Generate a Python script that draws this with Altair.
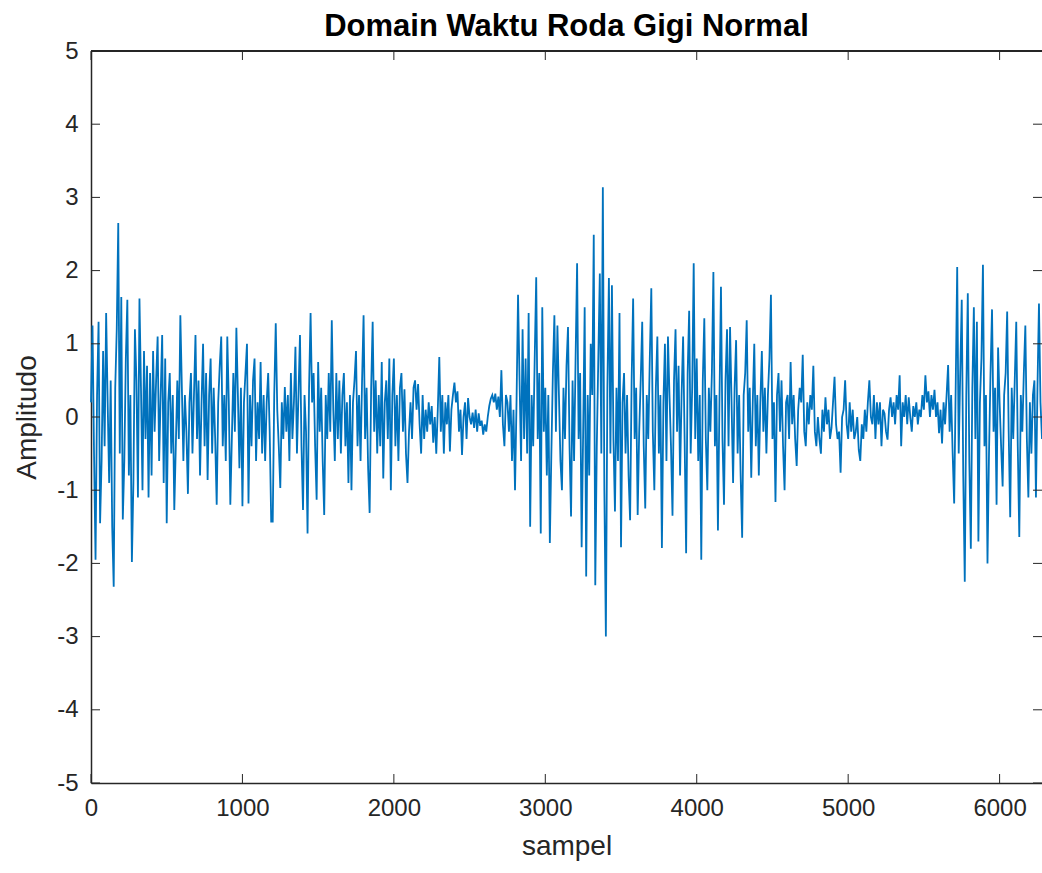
import altair as alt
import pandas as pd

# Vibration record of a healthy gear, one value every 10 samples
STEP = 10
amplitudo = [
    # 0 - 190
    0.2, 1.25, -0.5, -1.95, 0.3, 1.3, -1.45, -0.6, 0.9, -0.4, 1.42, 0.2, -0.9, 0.5, -1.5, -2.32, 0.4, 1.2, 2.65, -0.5,
    # 200 - 390
    1.64, -1.4, -0.6, 0.8, 1.6, -0.8, 0.3, -1.98, -0.9, 1.2, 0.5, -1.1, 1.62, 0.4, -1.0, 0.9, -0.3, 0.7, -1.1, 0.6,
    # 400 - 590
    -0.8, 0.9, -0.2, 0.5, 1.1, -0.6, 0.3, 1.12, -0.9, 0.8, -1.45, 0.2, 0.6, -0.5, 0.3, -1.27, -0.4, 0.5, -0.3, 1.39,
    # 600 - 790
    0.4, -0.6, 0.3, -0.2, -1.05, 0.2, 0.6, -0.5, 0.3, 1.12, -0.3, 0.5, -0.8, 0.2, 1.0, -0.4, 0.6, -0.86, 0.3, 0.8,
    # 800 - 990
    -0.5, 0.4, -0.3, -1.2, 0.2, 0.7, 1.1, -0.4, 0.3, -0.6, 1.1, 0.2, -1.2, -0.3, 0.6, -0.2, 1.22, 0.3, -0.7, 0.4,
    # 1000 - 1190
    -1.22, 0.2, 0.6, 1.0, -1.18, 0.3, -0.4, 0.5, 0.8, -0.6, 0.2, -0.3, 0.75, -0.5, 0.3, -0.6, 0.2, 0.6, -0.2, -1.43,
    # 1200 - 1390
    -1.43, 0.3, 1.28, 0.1, -0.4, -0.97, 0.2, -0.3, 0.41, -0.2, 0.3, -0.6, 0.6, -0.3, 0.2, 0.96, -0.5, 0.3, 1.12, -0.4,
    # 1400 - 1590
    -1.27, 0.3, -0.2, -1.59, 0.4, 1.42, 0.2, 0.6, -0.4, -1.13, 0.75, -0.2, 0.4, -0.6, -1.34, 0.3, -0.3, 0.6, -0.2, 1.32,
    # 1600 - 1790
    0.1, -0.6, 0.6, -0.3, 0.5, -0.5, 0.3, 0.6, -0.4, 0.2, -0.9, 0.3, -1.0, 0.2, 0.5, 0.9, -0.4, 0.3, -0.6, 0.5,
    # 1800 - 1990
    1.39, -0.3, 0.4, -0.7, -1.31, 0.4, 1.3, -0.2, 0.5, -0.5, 0.3, -0.4, 0.75, -0.84, 0.2, 0.5, -0.3, 0.8, -1.0, 0.3,
    # 2000 - 2190
    0.8, -0.4, 0.3, -0.6, 0.4, 0.6, -0.2, 0.38, -0.5, -0.9, -0.2, 0.2, -0.3, 0.4, 0.5, 0.1, 0.45, -0.1, -0.5, 0.3,
    # 2200 - 2390
    -0.3, 0.1, -0.2, 0.2, -0.1, 0.15, -0.35, 0.0, -0.5, 0.1, 0.82, -0.2, 0.3, -0.5, 0.2, -0.1, 0.3, -0.47, 0.1, 0.3,
    # 2400 - 2590
    0.47, 0.2, 0.35, -0.2, 0.1, -0.52, 0.0, 0.2, -0.3, 0.26, 0.0, -0.1, 0.06, -0.15, 0.1, -0.2, 0.05, -0.12, -0.05, -0.24,
    # 2600 - 2790
    -0.1, -0.2, 0.0, 0.15, 0.25, 0.3, 0.2, 0.32, 0.1, 0.28, 0.0, 0.64, -0.1, -0.4, 0.3, 0.2, -0.2, 0.3, -0.6, 0.1,
    # 2800 - 2990
    -1.0, 0.2, 1.67, 0.5, -0.6, 1.2, -0.3, 0.8, -0.5, 1.42, -1.5, 0.3, -0.4, 0.8, 1.91, -0.3, 0.6, -1.59, 1.5, -0.2,
    # 3000 - 3190
    0.4, -0.8, 0.3, -1.72, -0.5, 0.6, 1.39, -0.2, 1.25, 0.3, -0.6, -1.0, 0.4, -0.3, 0.7, 1.23, -0.4, -1.36, 0.5, -0.6,
    # 3200 - 3390
    0.8, 2.1, -0.3, 0.6, -1.78, -0.2, 1.5, -2.18, 0.3, -0.8, 1.0, 0.3, 2.49, -2.3, -0.4, 0.8, 1.96, -0.5, 3.14, -1.0,
    # 3400 - 3590
    -3.0, 0.4, 1.9, -0.5, 1.8, -0.3, -1.29, 0.4, -0.6, 1.42, -1.78, 0.2, 0.6, -0.5, 0.3, -0.8, -1.41, 0.5, 1.62, -0.3,
    # 3600 - 3790
    0.4, -1.34, -0.2, 0.5, 1.3, -0.4, -1.25, 0.3, -0.3, 0.8, 1.76, -0.2, -1.0, 0.4, 1.1, -0.5, 0.3, -1.79, 0.2, 1.0,
    # 3800 - 3990
    -0.6, 1.1, 0.3, -0.4, -1.35, 0.5, 1.2, -0.2, 0.7, -0.8, 0.3, 1.1, -0.3, -1.86, 0.6, 1.45, -0.5, 0.4, 2.1, -0.3,
    # 4000 - 4190
    0.8, -0.6, 0.3, -1.95, 0.5, 1.35, -0.3, -1.0, 0.4, -0.2, 0.6, 1.98, -0.4, 0.3, -1.55, 0.2, 1.78, -0.3, -1.2, 0.5,
    # 4200 - 4390
    1.2, -0.4, 1.23, 0.2, -0.9, 0.4, 1.05, -0.5, 0.3, -0.8, -1.65, 0.3, 0.6, 1.32, -0.2, 0.4, -0.83, 0.2, 1.0, -0.4,
    # 4400 - 4590
    0.3, -0.8, 0.2, 0.9, -0.2, 0.4, -0.5, 0.3, 0.8, 1.67, -0.3, 0.2, -1.16, 0.3, 0.6, -0.2, 0.5, -0.4, -1.0, 0.2,
    # 4600 - 4790
    0.3, -0.3, 0.75, -0.1, 0.3, -0.3, -0.67, 0.1, 0.4, 0.2, 0.85, -0.2, -0.4, 0.2, -0.1, 0.3, 0.1, 0.7, -0.2, -0.4,
    # 4800 - 4990
    0.0, -0.3, -0.5, 0.1, -0.2, 0.27, -0.1, 0.1, -0.3, -0.15, 0.2, 0.55, -0.1, -0.3, -0.2, -0.76, 0.0, 0.1, 0.5, -0.1,
    # 5000 - 5190
    -0.3, 0.2, -0.2, 0.1, -0.3, -0.2, 0.0, -0.45, -0.6, -0.1, -0.3, 0.1, -0.2, 0.2, 0.5, 0.0, -0.1, 0.3, -0.3, 0.2,
    # 5200 - 5390
    -0.1, 0.2, -0.4, 0.1, 0.05, -0.2, -0.31, 0.1, 0.27, 0.0, 0.2, -0.1, 0.3, 0.1, 0.57, -0.4, 0.2, 0.0, 0.3, -0.1,
    # 5400 - 5590
    0.27, 0.0, -0.2, 0.15, 0.0, 0.2, -0.1, 0.1, 0.0, 0.3, 0.1, 0.57, 0.2, 0.35, 0.0, 0.3, 0.1, 0.37, 0.0, 0.2,
    # 5600 - 5790
    -0.22, 0.1, -0.36, 0.2, -0.1, 0.3, 0.71, -0.2, 0.3, -0.5, -1.18, 0.4, 2.05, -0.5, 0.6, 1.6, -0.8, -2.25, 0.3, 1.69,
    # 5800 - 5990
    -0.6, -1.8, 0.4, 1.5, -0.3, 1.3, -1.7, 0.2, 0.8, 2.08, -0.4, 0.3, -2.0, -0.5, 0.6, 1.47, -0.2, 0.4, -1.2, 0.95,
    # 6000 - 6190
    0.2, -0.4, -0.95, 0.3, 0.6, 1.44, -0.2, -1.37, 0.4, -0.3, 0.5, 1.3, -0.4, -1.64, 0.3, -0.2, 0.6, 1.25, -0.3, -1.1,
    # 6200 - 6280
    0.2, -0.5, 0.3, 0.5, -1.1, 0.4, 1.55, 0.2, -0.3,
]
sampel = [i * STEP for i in range(len(amplitudo))]

x_ticks = [0, 1000, 2000, 3000, 4000, 5000, 6000]
y_ticks = [-5, -4, -3, -2, -1, 0, 1, 2, 3, 4, 5]
X_MAX = 6280

W, H = 951, 732
AXIS_COLOR = "#262626"
FONT = "Liberation Sans"

signal = pd.DataFrame({"sampel": sampel, "amplitudo": amplitudo})
xt = pd.DataFrame({"sampel": x_ticks})
yt = pd.DataFrame({"amplitudo": y_ticks})

x_scale = alt.Scale(domain=[0, X_MAX], nice=False, zero=False)
y_scale = alt.Scale(domain=[-5, 5], nice=False)

# plain integer labels with an ASCII hyphen for negatives
plain = "'' + datum.value"

x_axis = alt.Axis(values=x_ticks, grid=False, ticks=False, labelPadding=13,
                  labelFlush=False, labelExpr=plain, titlePadding=12,
                  domainColor=AXIS_COLOR, domainWidth=1.5)
y_axis = alt.Axis(values=y_ticks, grid=False, ticks=False, labelPadding=13,
                  labelExpr=plain, titlePadding=15, domainColor=AXIS_COLOR,
                  domainWidth=1.5)

line = alt.Chart(signal).mark_line(color="#0072BD", strokeWidth=1.8).encode(
    x=alt.X("sampel:Q", scale=x_scale, title="sampel", axis=x_axis),
    y=alt.Y("amplitudo:Q", scale=y_scale, title="Amplitudo", axis=y_axis),
)

# inward tick marks on all four sides (MATLAB-style box)
tx = alt.X("sampel:Q", scale=x_scale, title="sampel")
ty = alt.Y("amplitudo:Q", scale=y_scale, title="Amplitudo")
ticks_bottom = alt.Chart(xt).mark_rule(color=AXIS_COLOR, strokeWidth=1).encode(
    x=tx, y=alt.value(H), y2=alt.value(H - 9))
ticks_top = alt.Chart(xt).mark_rule(color=AXIS_COLOR, strokeWidth=1).encode(
    x=tx, y=alt.value(0), y2=alt.value(9))
ticks_left = alt.Chart(yt).mark_rule(color=AXIS_COLOR, strokeWidth=1).encode(
    y=ty, x=alt.value(0), x2=alt.value(9))
ticks_right = alt.Chart(yt).mark_rule(color=AXIS_COLOR, strokeWidth=1).encode(
    y=ty, x=alt.value(W - 9), x2=alt.value(W))
top_border = alt.Chart(xt).mark_rule(color=AXIS_COLOR, strokeWidth=1.5).encode(
    x=alt.value(0), x2=alt.value(W), y=alt.value(0))

chart = alt.layer(
    line, ticks_bottom, ticks_top, ticks_left, ticks_right, top_border
).properties(
    width=W, height=H,
    title=alt.TitleParams("Domain Waktu Roda Gigi Normal", font=FONT, fontSize=31,
                          fontWeight="bold", color="#000000", anchor="middle", offset=-4),
    autosize=alt.AutoSizeParams(type="none"),
    padding={"left": 91, "top": 51, "right": 0, "bottom": 90},
).configure_view(stroke=None).configure_axis(
    labelFont=FONT, titleFont=FONT, labelFontSize=24, titleFontSize=28,
    labelColor=AXIS_COLOR, titleColor=AXIS_COLOR, titleFontWeight="normal",
)

chart.save("out.html", embed_options={"renderer": "svg", "actions": False})
